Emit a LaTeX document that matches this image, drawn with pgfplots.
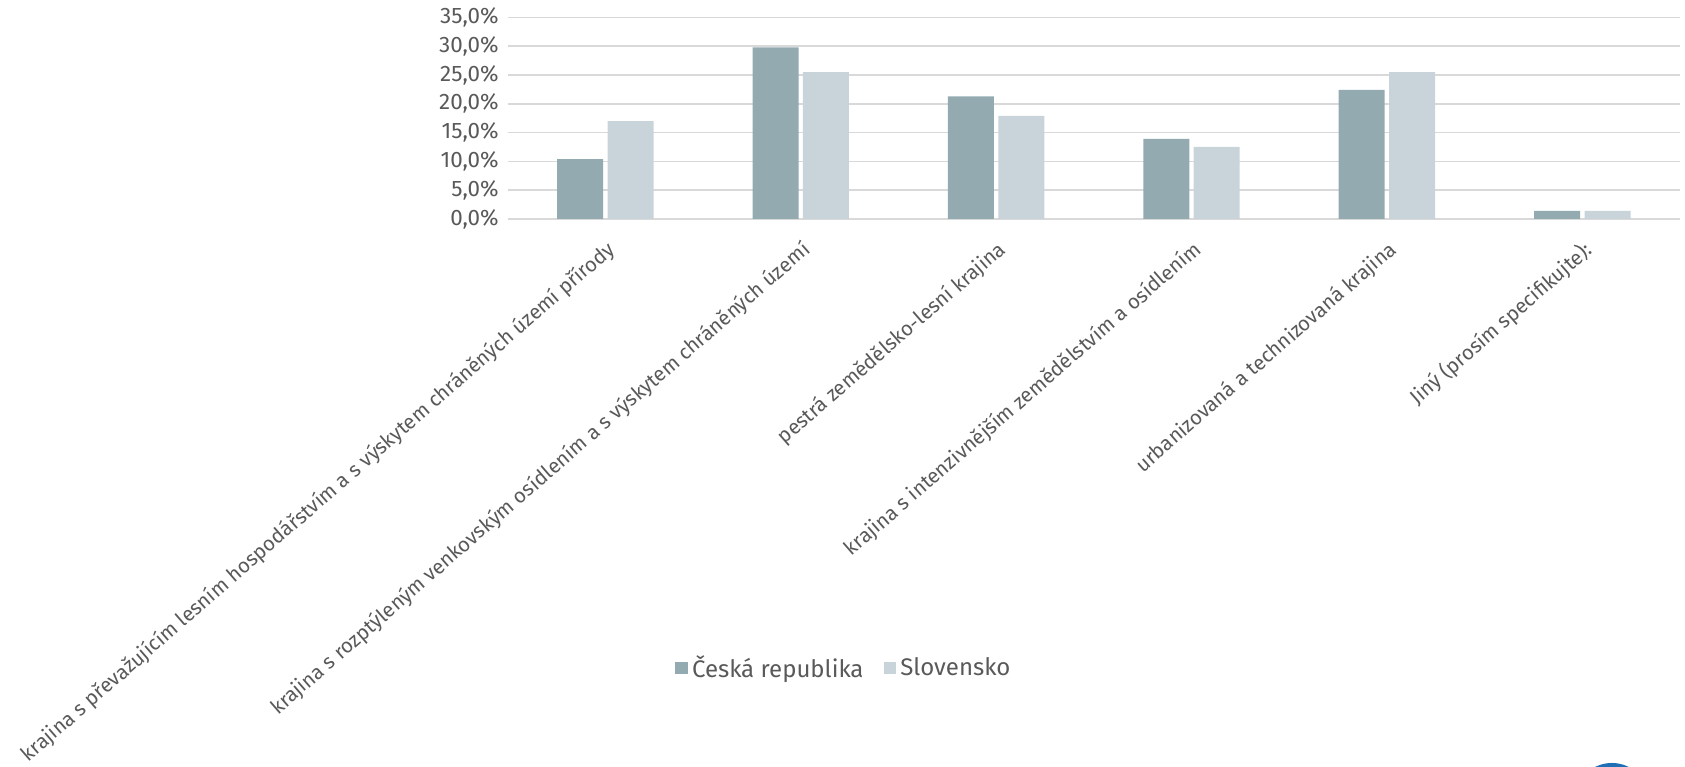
\documentclass[border=0pt]{standalone}
\usepackage{pgfplots}
\pgfplotsset{compat=1.18}
\usepackage{fontspec}
\setmainfont{Fira Sans}
\definecolor{cz}{HTML}{92AAB0}
\definecolor{sk}{HTML}{C8D4D9}
\definecolor{txt}{HTML}{595959}
\definecolor{grd}{HTML}{D9D9D9}
\definecolor{logo}{HTML}{1F6FB5}
\begin{document}
\begin{tikzpicture}
\begin{axis}[
  name=ax, at={(0,0)}, anchor=south west,
  scale only axis, width=586.2pt, height=100.85pt,
  xmin=-0.5, xmax=5.5, ymin=0, ymax=35,
  ybar=2.2pt, bar width=23pt,
  axis lines=left, axis line style={-},
  y axis line style={draw=none},
  x axis line style={grd, line width=0.75pt},
  ymajorgrids, grid style={grd, line width=0.75pt},
  major tick length=0pt,
  ytick={0,5,10,15,20,25,30,35},
  yticklabels={{0,0\%},{5,0\%},{10,0\%},{15,0\%},{20,0\%},{25,0\%},{30,0\%},{35,0\%}},
  xtick={0,1,2,3,4,5},
  xticklabels={
    krajina s převažujícím lesním hospodářstvím a s výskytem chráněných území přírody,
    krajina s rozptýleným venkovským osídlením a s výskytem chráněných území,
    pestrá zemědělsko-lesní krajina,
    krajina s intenzivnějším zemědělstvím a osídlením,
    urbanizovaná a technizovaná krajina,
    Jiný (prosím specifikujte):},
  ticklabel style={text=txt},
  yticklabel style={font=\fontsize{11.2}{13}\selectfont, anchor=east, inner sep=0pt, xshift=-4.3pt},
  xticklabel style={font=\fontsize{10.2}{12}\selectfont, rotate=41, anchor=north east, inner sep=0pt, yshift=-7.5pt, xshift=-6.5pt},
  legend style={at={(0.2876,-2.226)}, anchor=center, draw=none, fill=none,
    legend columns=2, font=\fontsize{12}{14}\selectfont, text=txt,
    /tikz/every even column/.append style={column sep=8pt}},
]
\addplot[fill=cz, draw=none,
  legend image code/.code={\fill[cz] (0pt,-3.2pt) rectangle (6.4pt,3.2pt);}]
  coordinates {(0,10.4) (1,29.8) (2,21.3) (3,13.9) (4,22.4) (5,1.4)};
\addplot[fill=sk, draw=none,
  legend image code/.code={\fill[sk] (0pt,-3.2pt) rectangle (6.4pt,3.2pt);}]
  coordinates {(0,17.0) (1,25.5) (2,17.9) (3,12.5) (4,25.5) (5,1.4)};
\legend{Česká republika, Slovensko}
\end{axis}
\draw[overlay, logo, line width=2pt] (552.15pt,-290.5pt) circle (17.5pt);
\pgfresetboundingbox
\path[use as bounding box] (-253.85pt,-274pt) rectangle (588.7pt,109.5pt);
\end{tikzpicture}
\end{document}
